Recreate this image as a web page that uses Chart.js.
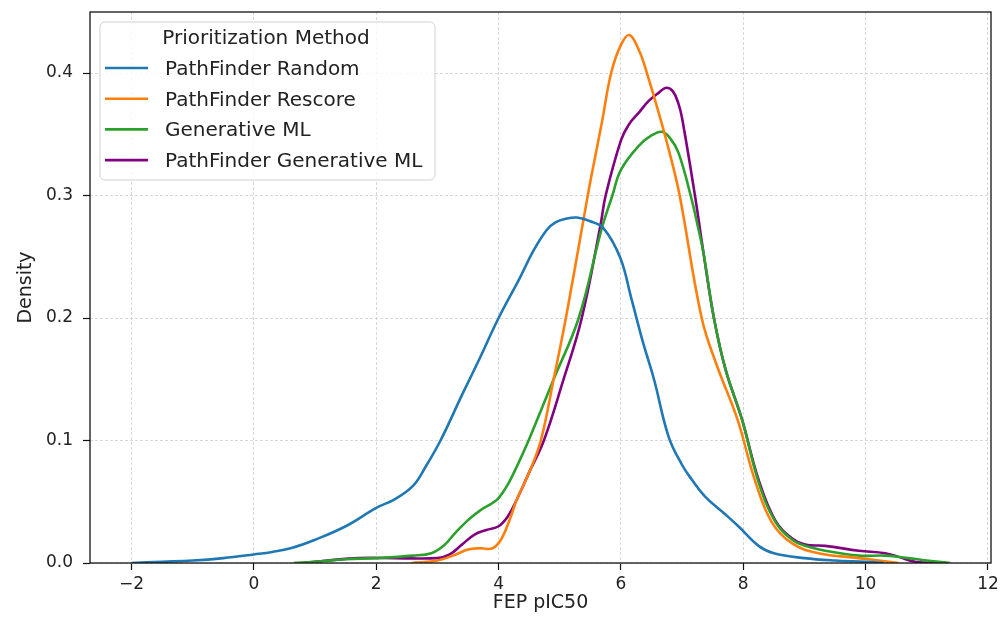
<!DOCTYPE html>
<html>
<head>
<meta charset="utf-8">
<script src="https://cdn.jsdelivr.net/npm/chart.js@4.4.1/dist/chart.umd.min.js"></script>
<style>
  html, body { margin: 0; padding: 0; background: #fff; }
</style>
</head>
<body>
<canvas id="kde" width="1000" height="626"></canvas>
<script>
// KDE curves (x = FEP pIC50, y = density)
const randomX = [-2.0, -1.5, -1.0, -0.5, 0.0, 0.3, 0.6, 1.0, 1.5, 2.0, 2.3, 2.6, 2.8, 3.05, 3.4, 3.7, 4.0, 4.35, 4.57, 4.79, 4.93, 5.1, 5.28, 5.5, 5.72, 5.99, 6.17, 6.35, 6.54, 6.78, 7.0, 7.16, 7.38, 7.7, 7.92, 8.25, 8.5, 9.0, 9.5, 10.0, 10.3];
const randomY = [0.000, 0.001, 0.002, 0.004, 0.007, 0.009, 0.012, 0.019, 0.030, 0.045, 0.052, 0.063, 0.078, 0.100, 0.137, 0.168, 0.200, 0.233, 0.255, 0.272, 0.278, 0.281, 0.282, 0.279, 0.273, 0.249, 0.216, 0.182, 0.150, 0.103, 0.080, 0.068, 0.054, 0.040, 0.030, 0.014, 0.008, 0.004, 0.002, 0.001, 0.000];

const rescoreX = [2.58, 3.0, 3.3, 3.5, 3.7, 3.9, 4.05, 4.2, 4.3, 4.5, 4.69, 4.9, 5.1, 5.39, 5.51, 5.69, 5.84, 6.0, 6.14, 6.3, 6.4, 6.62, 6.8, 6.96, 7.32, 7.57, 7.9, 8.2, 8.47, 8.8, 9.23, 9.89, 10.54];
const rescoreY = [0.000, 0.002, 0.007, 0.011, 0.012, 0.012, 0.020, 0.038, 0.052, 0.074, 0.100, 0.150, 0.200, 0.281, 0.314, 0.360, 0.400, 0.423, 0.431, 0.418, 0.404, 0.367, 0.334, 0.300, 0.200, 0.161, 0.118, 0.066, 0.033, 0.016, 0.008, 0.004, 0.000];

const genX = [0.65, 1.0, 1.5, 2.0, 2.6, 2.9, 3.1, 3.3, 3.5, 3.7, 3.9, 4.0, 4.15, 4.3, 4.49, 4.9, 5.31, 5.68, 5.86, 6.0, 6.3, 6.5, 6.67, 6.8, 6.94, 7.14, 7.27, 7.35, 7.52, 7.71, 7.98, 8.25, 8.52, 8.8, 9.01, 9.34, 9.89, 10.32, 10.7, 11.0, 11.38];
const genY = [0.000, 0.001, 0.003, 0.004, 0.006, 0.008, 0.014, 0.025, 0.035, 0.043, 0.049, 0.053, 0.064, 0.079, 0.100, 0.150, 0.200, 0.272, 0.300, 0.321, 0.341, 0.349, 0.352, 0.347, 0.335, 0.300, 0.272, 0.253, 0.200, 0.158, 0.117, 0.066, 0.034, 0.019, 0.014, 0.010, 0.006, 0.006, 0.004, 0.002, 0.000];

const pfGenX = [0.8, 1.2, 1.7, 2.3, 3.0, 3.2, 3.4, 3.6, 3.8, 4.0, 4.15, 4.3, 4.5, 4.74, 5.05, 5.36, 5.67, 5.75, 6.0, 6.13, 6.3, 6.45, 6.62, 6.74, 6.85, 6.94, 7.0, 7.21, 7.35, 7.52, 7.71, 7.98, 8.25, 8.52, 8.8, 9.01, 9.34, 9.89, 10.32, 10.54, 10.81, 11.25];
const pfGenY = [0.000, 0.002, 0.004, 0.004, 0.004, 0.007, 0.015, 0.023, 0.027, 0.030, 0.038, 0.052, 0.074, 0.100, 0.148, 0.200, 0.277, 0.300, 0.345, 0.358, 0.368, 0.377, 0.384, 0.388, 0.385, 0.375, 0.363, 0.300, 0.253, 0.200, 0.158, 0.117, 0.068, 0.035, 0.020, 0.015, 0.014, 0.010, 0.008, 0.005, 0.001, 0.000];

const seriesNames = ['PathFinder Random', 'PathFinder Rescore', 'Generative ML', 'PathFinder Generative ML'];
const seriesColors = ['#1f77b4', '#ff7f0e', '#2ca02c', '#800080'];
const legendTitle = 'Prioritization Method';

const xTicks = [-2, 0, 2, 4, 6, 8, 10, 12];
const yTicks = [0.0, 0.1, 0.2, 0.3, 0.4];

const FONT = '"DejaVu Sans", sans-serif';

function pts(xs, ys) {
    return xs.map((x, i) => ({ x: x, y: ys[i] }));
}

const allX = [randomX, rescoreX, genX, pfGenX];
const allY = [randomY, rescoreY, genY, pfGenY];

const datasets = seriesNames.map((name, i) => ({
    label: name,
    data: pts(allX[i], allY[i]),
    borderColor: seriesColors[i],
    backgroundColor: seriesColors[i],
    borderWidth: 2.6,
    pointRadius: 0,
    fill: false,
    tension: 0.4
}));

// matplotlib-style frame round the plot area
const framePlugin = {
    id: 'frame',
    afterDatasetsDraw(chart) {
        const { ctx, chartArea: a } = chart;
        ctx.save();
        ctx.strokeStyle = '#111';
        ctx.lineWidth = 1.3;
        ctx.strokeRect(a.left, a.top, a.right - a.left, a.bottom - a.top);
        ctx.restore();
    }
};

// legend box inside the axes, top left
const legendPlugin = {
    id: 'boxLegend',
    afterDraw(chart) {
        const ctx = chart.ctx;
        const bx = 100, by = 22, bw = 335, bh = 158, r = 5;
        ctx.save();
        ctx.beginPath();
        ctx.moveTo(bx + r, by);
        ctx.arcTo(bx + bw, by, bx + bw, by + bh, r);
        ctx.arcTo(bx + bw, by + bh, bx, by + bh, r);
        ctx.arcTo(bx, by + bh, bx, by, r);
        ctx.arcTo(bx, by, bx + bw, by, r);
        ctx.closePath();
        ctx.fillStyle = 'rgba(255,255,255,0.8)';
        ctx.fill();
        ctx.strokeStyle = 'rgba(204,204,204,0.9)';
        ctx.lineWidth = 1;
        ctx.stroke();

        ctx.fillStyle = '#222';
        ctx.font = '20px ' + FONT;
        ctx.textBaseline = 'alphabetic';
        ctx.textAlign = 'center';
        ctx.fillText(legendTitle, 266, 44);

        ctx.textAlign = 'left';
        chart.data.datasets.forEach((ds, i) => {
            const yc = 68 + i * 30.7;
            ctx.strokeStyle = ds.borderColor;
            ctx.lineWidth = 2.6;
            ctx.beginPath();
            ctx.moveTo(105, yc);
            ctx.lineTo(148, yc);
            ctx.stroke();
            ctx.fillStyle = '#222';
            ctx.fillText(ds.label, 165, yc + 7);
        });
        ctx.restore();
    }
};

new Chart(document.getElementById('kde'), {
    type: 'line',
    data: { datasets: datasets },
    options: {
        responsive: false,
        animation: false,
        layout: { padding: { top: 12, right: 9, left: 0, bottom: 0 } },
        plugins: {
            legend: { display: false },
            tooltip: { enabled: false }
        },
        scales: {
            x: {
                type: 'linear',
                min: -2.68,
                max: 12.05,
                afterBuildTicks: (axis) => { axis.ticks = xTicks.map(v => ({ value: v })); },
                afterFit: (axis) => { axis.height = 63; axis.paddingLeft = 0; axis.paddingRight = 0; },
                grid: {
                    color: '#d4d4d4',
                    lineWidth: 0.9,
                    tickColor: '#111',
                    tickLength: 7,
                    tickWidth: 1.2,
                    tickBorderDash: []
                },
                border: { display: false, dash: [3, 2] },
                ticks: {
                    color: '#222',
                    font: { family: FONT, size: 17 },
                    padding: 4,
                    maxRotation: 0,
                    callback: (v) => (v < 0 ? '\u2212' + Math.abs(v) : String(v))
                },
                title: {
                    display: true,
                    text: 'FEP pIC50',
                    color: '#222',
                    font: { family: FONT, size: 19 },
                    padding: { top: 0, bottom: 12 }
                }
            },
            y: {
                type: 'linear',
                min: 0,
                max: 0.4498,
                afterBuildTicks: (axis) => { axis.ticks = yTicks.map(v => ({ value: v })); },
                afterFit: (axis) => { axis.width = 90; axis.paddingTop = 0; axis.paddingBottom = 0; },
                grid: {
                    color: '#d4d4d4',
                    lineWidth: 0.9,
                    tickColor: '#111',
                    tickLength: 7,
                    tickWidth: 1.2,
                    tickBorderDash: []
                },
                border: { display: false, dash: [3, 2] },
                ticks: {
                    color: '#222',
                    font: { family: FONT, size: 17 },
                    padding: 10,
                    callback: (v) => v.toFixed(1)
                },
                title: {
                    display: true,
                    text: 'Density',
                    color: '#222',
                    font: { family: FONT, size: 19 },
                    padding: { top: 15, bottom: 0 }
                }
            }
        }
    },
    plugins: [framePlugin, legendPlugin]
});
</script>
</body>
</html>
